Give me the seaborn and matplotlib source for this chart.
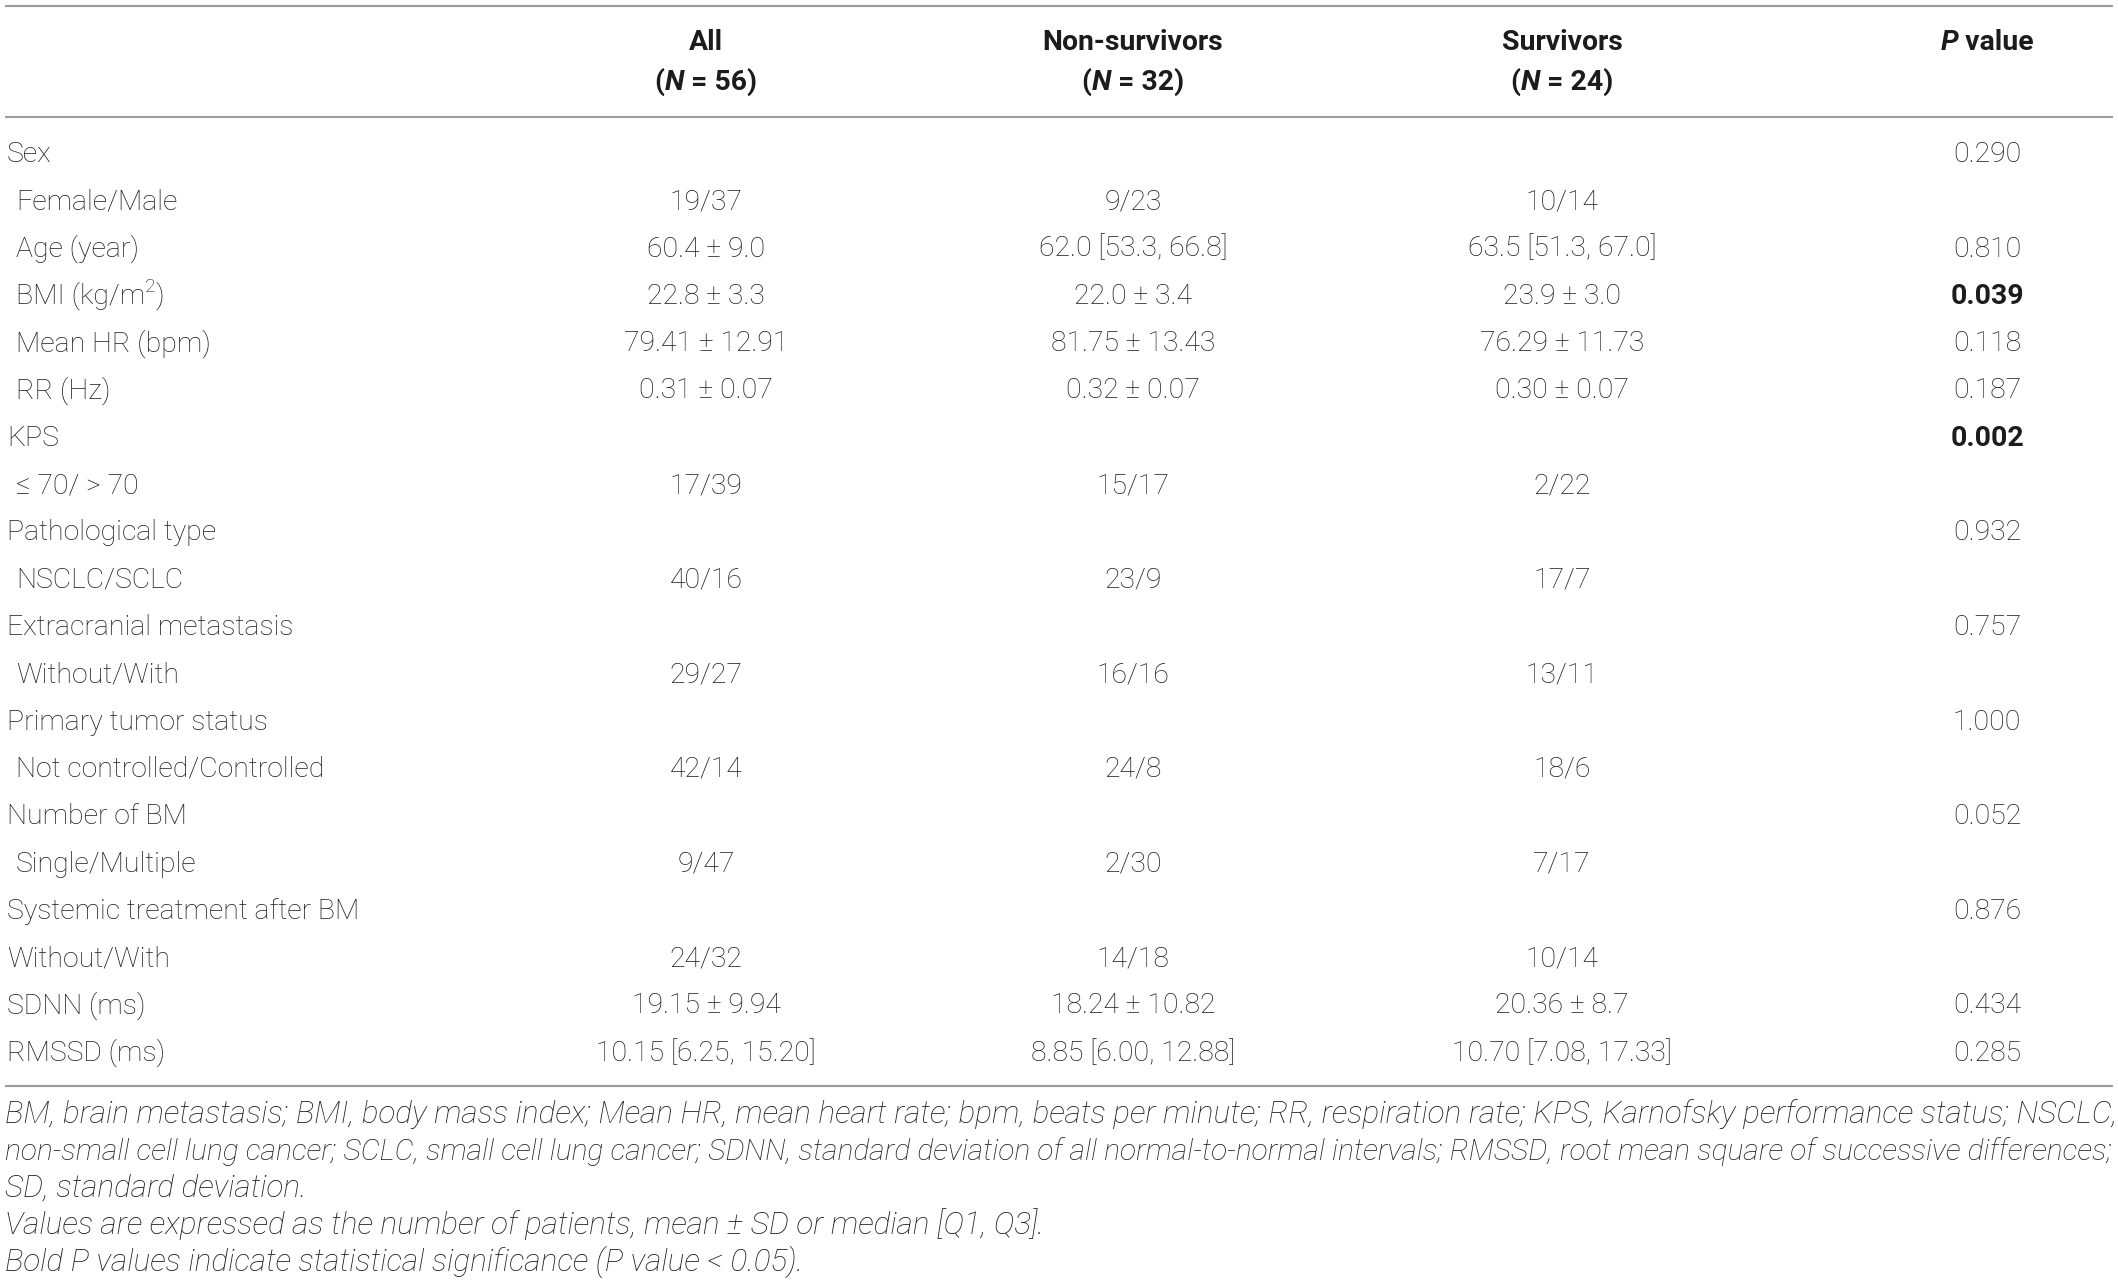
import matplotlib
matplotlib.use("Agg")
import matplotlib.pyplot as plt
import seaborn as sns

# ---- table content ----
col_heads = ["All", "Non-survivors", "Survivors"]
col_ns = ["56", "32", "24"]

row_labels = [
    "Sex", "Female/Male", "Age (year)", "BMI (kg/m^2)", "Mean HR (bpm)", "RR (Hz)",
    "KPS", "≤ 70/ > 70", "Pathological type", "NSCLC/SCLC",
    "Extracranial metastasis", "Without/With", "Primary tumor status",
    "Not controlled/Controlled", "Number of BM", "Single/Multiple",
    "Systemic treatment after BM", "Without/With", "SDNN (ms)", "RMSSD (ms)",
]
row_indent = [0, 1, 1, 1, 1, 1, 0, 1, 0, 1, 0, 1, 0, 1, 0, 1, 0, 0, 0, 0]

all_vals = [
    "", "19/37", "60.4 ± 9.0", "22.8 ± 3.3", "79.41 ± 12.91", "0.31 ± 0.07",
    "", "17/39", "", "40/16", "", "29/27", "", "42/14", "", "9/47",
    "", "24/32", "19.15 ± 9.94", "10.15 [6.25, 15.20]",
]
non_vals = [
    "", "9/23", "62.0 [53.3, 66.8]", "22.0 ± 3.4", "81.75 ± 13.43", "0.32 ± 0.07",
    "", "15/17", "", "23/9", "", "16/16", "", "24/8", "", "2/30",
    "", "14/18", "18.24 ± 10.82", "8.85 [6.00, 12.88]",
]
surv_vals = [
    "", "10/14", "63.5 [51.3, 67.0]", "23.9 ± 3.0", "76.29 ± 11.73", "0.30 ± 0.07",
    "", "2/22", "", "17/7", "", "13/11", "", "18/6", "", "7/17",
    "", "10/14", "20.36 ± 8.7", "10.70 [7.08, 17.33]",
]
p_vals = [
    "0.290", "", "0.810", "0.039", "0.118", "0.187", "0.002", "", "0.932", "",
    "0.757", "", "1.000", "", "0.052", "", "0.876", "", "0.434", "0.285",
]
significant = ["0.039", "0.002"]

notes = [
    "BM, brain metastasis; BMI, body mass index; Mean HR, mean heart rate; bpm, beats per minute; "
    "RR, respiration rate; KPS, Karnofsky performance status; NSCLC,",
    "non-small cell lung cancer; SCLC, small cell lung cancer; SDNN, standard deviation of all "
    "normal-to-normal intervals; RMSSD, root mean square of successive differences;",
    "SD, standard deviation.",
    "Values are expressed as the number of patients, mean ± SD or median [Q1, Q3].",
    "Bold P values indicate statistical significance (P value < 0.05).",
]

# ---- layout (pixels) ----
W, H = 2118, 1284
FAMILY = ["Roboto", "DejaVu Sans"]
INK = "#1e1b1c"
RULE = "#9b9b9b"
col_x = [706, 1133, 1562]
p_x = 1987
label_x = [7, 16]
row_y0, row_dy = 162, 47.3
note_y0, note_dy = 1123, 37

sns.set_theme(style="white")
plt.rcParams["font.family"] = FAMILY

fig = plt.figure(figsize=(W / 100, H / 100), dpi=100)
ax = fig.add_axes([0, 0, 1, 1])
ax.set_xlim(0, W)
ax.set_ylim(H, 0)
ax.axis("off")
renderer = fig.canvas.get_renderer()


def text_width(s, **props):
    """Pixel width of s, robust to leading/trailing spaces."""
    t1 = ax.text(0, 0, "|" + s + "|", **props)
    t2 = ax.text(0, 0, "||", **props)
    w = t1.get_window_extent(renderer).width - t2.get_window_extent(renderer).width
    t1.remove()
    t2.remove()
    return w


def fit_size(s, target, base=18, **props):
    return base * target / text_width(s, fontsize=base, **props)


def rich_text(x, y, parts, ha="center", **common):
    """parts: (text, props, dy) tuples drawn side by side."""
    widths = [text_width(s, **{**common, **p}) for s, p, _ in parts]
    cur = x - sum(widths) / 2 if ha == "center" else x
    for (s, p, dy), w in zip(parts, widths):
        ax.text(cur, y + dy, s, ha="left", va="baseline", **{**common, **p})
        cur += w


body = dict(fontweight="light", color=INK)
body_size = fit_size("Extracranial metastasis", 287, **body)
cap_px = 0.711 * body_size * 100 / 72

# rules
ax.hlines([6, 117, 1086], 5, 2113, colors=RULE, linewidth=1.5)

# header
head = dict(fontsize=body_size, fontweight="bold", color=INK)
for name, n, x in zip(col_heads, col_ns, col_x):
    ax.text(x, 50, name, ha="center", va="baseline", **head)
    rich_text(x, 90, [("(", {}, 0), ("N", {"fontstyle": "italic"}, 0),
                      (f" = {n})", {}, 0)], **head)
rich_text(p_x, 50, [("P", {"fontstyle": "italic"}, 0), (" value", {}, 0)], **head)

# body rows
for i, lab in enumerate(row_labels):
    y = row_y0 + i * row_dy
    lx = label_x[row_indent[i]]
    if "^" in lab:
        pre, rest = lab.split("^")
        rich_text(lx, y, [(pre, {}, 0),
                          (rest[0], {"fontsize": body_size * 0.68}, -0.58 * cap_px),
                          (rest[1:], {}, 0)],
                  ha="left", fontsize=body_size, **body)
    else:
        ax.text(lx, y, lab, ha="left", va="baseline", fontsize=body_size, **body)
    for vals, x in zip([all_vals, non_vals, surv_vals], col_x):
        ax.text(x, y, vals[i], ha="center", va="baseline", fontsize=body_size, **body)
    pv = p_vals[i]
    w = "bold" if pv in significant else "light"
    ax.text(p_x, y, pv, ha="center", va="baseline", fontsize=body_size,
            fontweight=w, color=INK)

# footnotes
note_props = dict(fontweight="light", fontstyle="italic", color=INK)
sizes = [fit_size(notes[0], 2108, **note_props), fit_size(notes[1], 2108, **note_props)]
sizes += [sizes[0]] * 3
for i, (line, sz) in enumerate(zip(notes, sizes)):
    ax.text(5, note_y0 + i * note_dy, line, ha="left", va="baseline", fontsize=sz, **note_props)

fig.savefig("out.png", dpi=100, facecolor="white")
